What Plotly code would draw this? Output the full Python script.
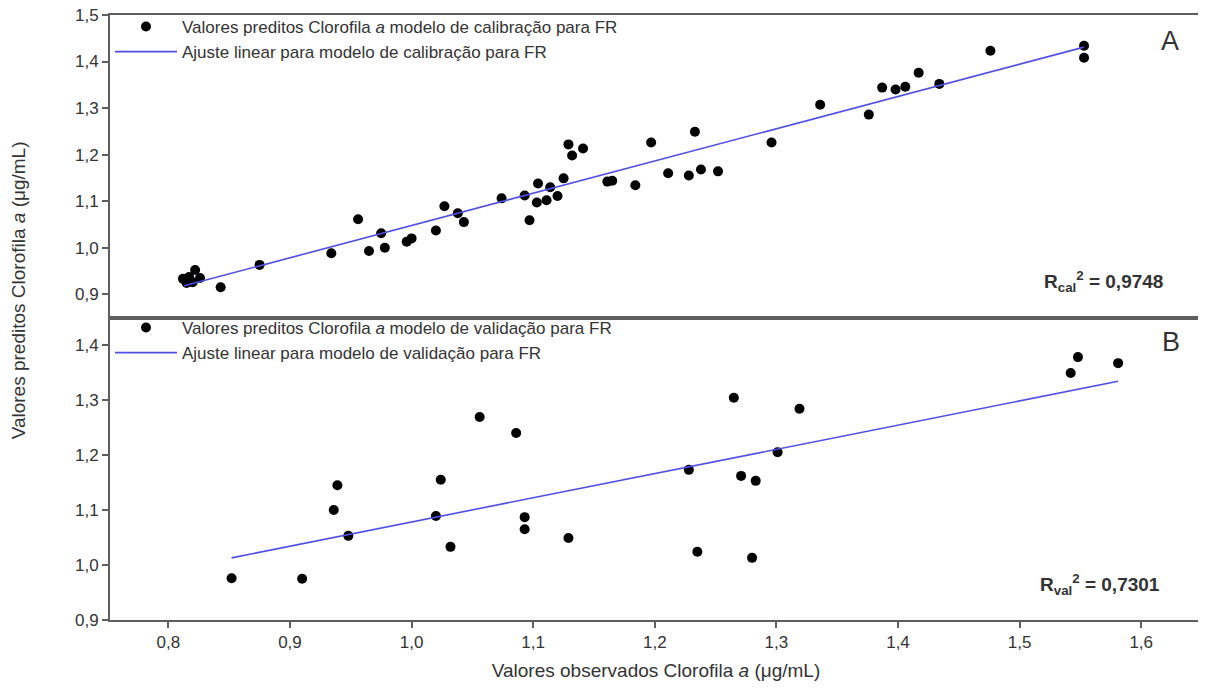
import plotly.graph_objects as go
from plotly.subplots import make_subplots

# ---- data ----
cal_obs = [0.812, 0.815, 0.817, 0.822, 0.826, 0.820, 0.843, 0.875, 0.934, 0.956,
           0.965, 0.975, 0.978, 0.996, 1.000, 1.020, 1.027, 1.038, 1.043, 1.074,
           1.093, 1.097, 1.104, 1.103, 1.111, 1.114, 1.120, 1.125, 1.129, 1.132,
           1.141, 1.161, 1.165, 1.184, 1.197, 1.211, 1.228, 1.233, 1.238, 1.252,
           1.296, 1.336, 1.376, 1.387, 1.398, 1.406, 1.417, 1.434, 1.476, 1.553,
           1.553]
cal_pred = [0.933, 0.924, 0.937, 0.952, 0.935, 0.926, 0.915, 0.963, 0.988, 1.061,
            0.993, 1.031, 1.000, 1.013, 1.020, 1.037, 1.089, 1.074, 1.055, 1.106,
            1.112, 1.059, 1.138, 1.097, 1.102, 1.130, 1.111, 1.149, 1.222, 1.198,
            1.213, 1.142, 1.144, 1.134, 1.226, 1.160, 1.155, 1.249, 1.168, 1.164,
            1.226, 1.307, 1.286, 1.344, 1.340, 1.346, 1.376, 1.352, 1.423, 1.434,
            1.408]

val_obs = [0.852, 0.910, 0.936, 0.939, 0.948, 1.020, 1.024, 1.032, 1.056, 1.086,
           1.093, 1.093, 1.129, 1.228, 1.235, 1.265, 1.271, 1.280, 1.283, 1.301,
           1.319, 1.542, 1.548, 1.581]
val_pred = [0.976, 0.975, 1.100, 1.145, 1.053, 1.089, 1.155, 1.033, 1.269, 1.240,
            1.087, 1.065, 1.049, 1.173, 1.024, 1.304, 1.162, 1.013, 1.153, 1.205,
            1.284, 1.349, 1.378, 1.367]

cal_fit_x = [0.813, 1.553]
cal_fit_y = [0.918, 1.431]
val_fit_x = [0.852, 1.581]
val_fit_y = [1.013, 1.334]

x_ticks = [0.8, 0.9, 1.0, 1.1, 1.2, 1.3, 1.4, 1.5, 1.6]
x_labels = ["0,8", "0,9", "1,0", "1,1", "1,2", "1,3", "1,4", "1,5", "1,6"]
y_top_ticks = [0.9, 1.0, 1.1, 1.2, 1.3, 1.4, 1.5]
y_top_labels = ["0,9", "1,0", "1,1", "1,2", "1,3", "1,4", "1,5"]
y_bot_ticks = [0.9, 1.0, 1.1, 1.2, 1.3, 1.4]
y_bot_labels = ["0,9", "1,0", "1,1", "1,2", "1,3", "1,4"]

r2_cal = "0,9748"
r2_val = "0,7301"

# ---- figure ----
FONT = "Liberation Sans, Arial, sans-serif"
TXT = "#333333"
FRAME = "#5e5e5e"
FIT = "#4f4fe8"

fig = make_subplots(rows=2, cols=1, shared_xaxes=True, vertical_spacing=0)

fig.add_trace(go.Scatter(
    x=cal_obs, y=cal_pred, mode="markers",
    marker=dict(color="black", size=10),
    name="Valores preditos Clorofila <i>a</i> modelo de calibração para FR",
    legend="legend"), row=1, col=1)
fig.add_trace(go.Scatter(
    x=cal_fit_x, y=cal_fit_y, mode="lines",
    line=dict(color=FIT, width=1.6),
    name="Ajuste linear para modelo de calibração para FR",
    legend="legend"), row=1, col=1)

fig.add_trace(go.Scatter(
    x=val_obs, y=val_pred, mode="markers",
    marker=dict(color="black", size=10),
    name="Valores preditos Clorofila <i>a</i> modelo de validação para FR",
    legend="legend2"), row=2, col=1)
fig.add_trace(go.Scatter(
    x=val_fit_x, y=val_fit_y, mode="lines",
    line=dict(color=FIT, width=1.6),
    name="Ajuste linear para modelo de validação para FR",
    legend="legend2"), row=2, col=1)

axis_common = dict(showline=True, linecolor=FRAME, linewidth=2, mirror=True,
                   showgrid=False, zeroline=False,
                   tickfont=dict(family=FONT, size=17, color=TXT),
                   tickcolor=FRAME, tickwidth=1.5, ticklen=6,
                   ticklabeloverflow="allow")

fig.update_xaxes(range=[0.752, 1.65], tickvals=x_ticks, ticktext=x_labels,
                 **axis_common)
fig.update_xaxes(ticks="", showticklabels=False, row=1, col=1)
fig.update_xaxes(ticks="outside", row=2, col=1,
                 title=dict(text="Valores observados Clorofila <i>a</i> (μg/mL)",
                            font=dict(family=FONT, size=19, color=TXT),
                            standoff=12))

fig.update_yaxes(ticks="outside", **axis_common)
fig.update_yaxes(range=[0.85, 1.5], tickvals=y_top_ticks, ticktext=y_top_labels,
                 row=1, col=1)
fig.update_yaxes(range=[0.9, 1.45], tickvals=y_bot_ticks, ticktext=y_bot_labels,
                 row=2, col=1)

legend_common = dict(xanchor="left", yanchor="top", bgcolor="rgba(0,0,0,0)",
                     font=dict(family=FONT, size=17, color=TXT),
                     itemwidth=62, tracegroupgap=0,
                     xref="paper", yref="container")
# page body adds an 8 px offset, so margins are shifted to compensate
fig.update_layout(
    width=1206, height=690,
    margin=dict(l=102, r=12, t=7, b=78, autoexpand=False),
    plot_bgcolor="white", paper_bgcolor="white",
    showlegend=True,
    legend=dict(x=0.0, y=0.9986, **legend_common),
    legend2=dict(x=0.0, y=0.5623, **legend_common),
)

annots = [
    dict(text="Valores preditos Clorofila <i>a</i> (μg/mL)", textangle=-90,
         xref="paper", yref="paper", x=-0.0842, y=0.545,
         xanchor="center", yanchor="middle", showarrow=False,
         font=dict(family=FONT, size=19, color=TXT)),
    dict(text="A", xref="paper", yref="paper", x=0.9707, y=0.957,
         xanchor="center", yanchor="middle", showarrow=False,
         font=dict(family=FONT, size=27, color=TXT)),
    dict(text="B", xref="paper", yref="paper", x=0.9716, y=0.4595,
         xanchor="center", yanchor="middle", showarrow=False,
         font=dict(family=FONT, size=27, color=TXT)),
    dict(text="<b>R<sub>cal</sub><sup>2</sup> = " + r2_cal + "</b>",
         xref="paper", yref="paper", x=0.966, y=0.5603,
         xanchor="right", yanchor="middle",
         showarrow=False, font=dict(family=FONT, size=19, color=TXT)),
    dict(text="<b>R<sub>val</sub><sup>2</sup> = " + r2_val + "</b>",
         xref="paper", yref="paper", x=0.963, y=0.0595,
         xanchor="right", yanchor="middle",
         showarrow=False, font=dict(family=FONT, size=19, color=TXT)),
    dict(text="calibração e (B) modelo de validação",
         xref="paper", yref="paper", x=(151 - 110) / 1092, xanchor="left",
         y=1.0, yanchor="bottom", yshift=6, showarrow=False,
         font=dict(family=FONT, size=26, color=TXT)),
]
fig.update_layout(annotations=annots)

fig.write_html("out.html")
